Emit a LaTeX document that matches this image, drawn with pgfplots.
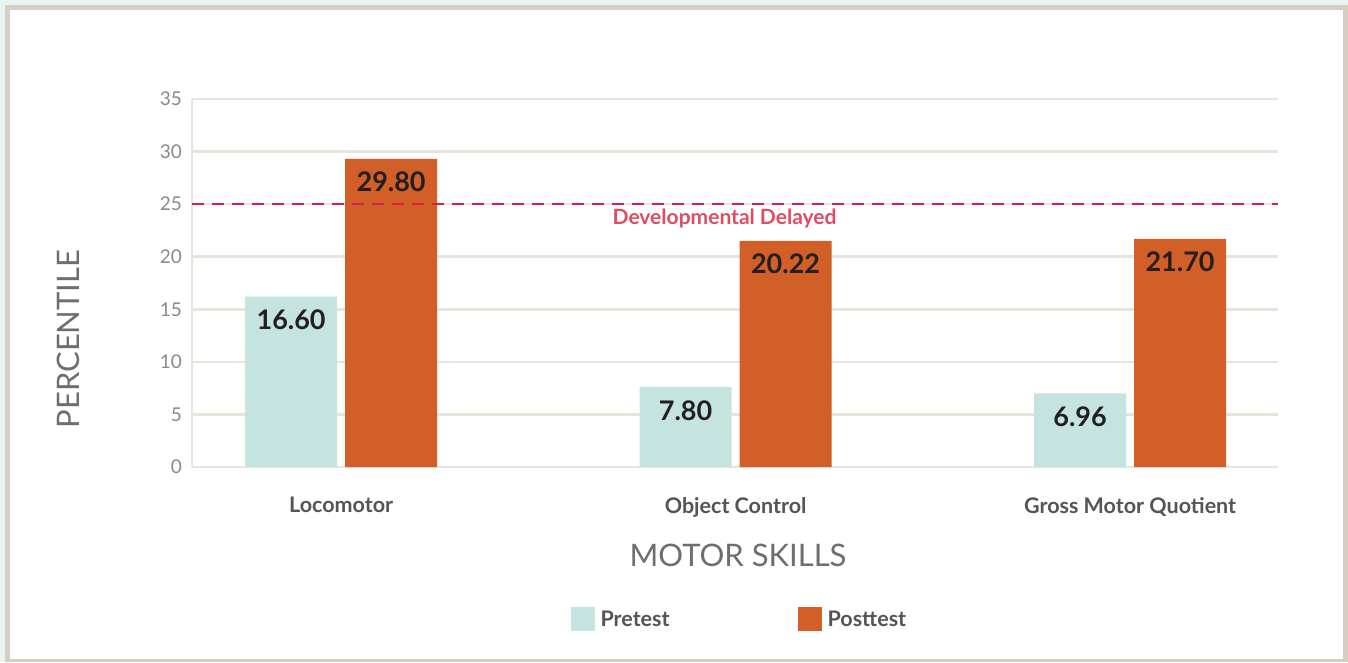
\documentclass[border=0pt]{standalone}
\usepackage{fontspec}
\setmainfont{Lato}
\usepackage{pgfplots}
\pgfplotsset{compat=1.18}
\usepackage{pgfplotstable}
\usetikzlibrary{backgrounds}

\definecolor{pre}{HTML}{C5E4DF}
\definecolor{post}{HTML}{D15F27}
\definecolor{gridc}{HTML}{E8E4DC}
\definecolor{framec}{HTML}{D6CEC0}
\definecolor{mint}{HTML}{EAF4F1}
\definecolor{ticklab}{HTML}{8A8A8A}
\definecolor{catlab}{HTML}{555555}
\definecolor{axlab}{HTML}{6E6E6E}
\definecolor{delay}{HTML}{D81E4D}
\definecolor{delaytext}{HTML}{E04C63}
\definecolor{vallab}{HTML}{231F20}

\pgfplotstableread{
x y label
0 16.2 16.60
1 7.6 7.80
2 7.0 6.96
}\pretest
\pgfplotstableread{
x y label
0 29.3 29.80
1 21.5 20.22
2 21.7 21.70
}\posttest

\begin{document}
\begin{tikzpicture}[x=1pt,y=1pt]
\begin{axis}[
  width=1086pt, height=368pt, scale only axis,
  xmin=-0.378, xmax=2.375, ymin=0, ymax=35,
  ytick={0,5,...,35},
  xtick={0,1,2},
  xticklabels={Locomotor, Object Control, Gross Motor Quotient},
  /pgf/number format/assume math mode=true,
  clip=false,
  axis lines=left,
  axis line style={-},
  x axis line style={draw=none},
  y axis line style={draw=gridc, line width=2.5pt},
  major tick length=0pt,
  ymajorgrids,
  grid style={draw=gridc, line width=2.5pt},
  yticklabel style={font=\fontsize{19}{19}\selectfont, text=ticklab, anchor=east, inner sep=0pt, xshift=-10pt},
  xticklabel style={font=\fontsize{21.5}{21.5}\selectfont\bfseries, text=catlab, anchor=north, inner sep=0pt, yshift=-30pt},
  legend columns=2,
  legend style={at={(0.504,-0.413)}, anchor=center, draw=none, fill=none,
    font=\fontsize{21.5}{21.5}\selectfont\bfseries, text=catlab,
    /tikz/every odd column/.append style={column sep=4pt},
    /tikz/every even column/.append style={column sep=126pt}},
]
\addplot[ybar, bar width=92pt, bar shift=-50pt, fill=pre, draw=none,
  nodes near coords, point meta=explicit symbolic,
  nodes near coords style={anchor=north, xshift=-50pt, yshift=-13pt, inner sep=0pt, font=\fontsize{27}{27}\selectfont\bfseries, text=vallab},
  legend image code/.code={\fill[pre] (0pt,-12pt) rectangle (24pt,12pt);}]
  table[x=x, y=y, meta=label] {\pretest};
\addlegendentry{Pretest}
\addplot[ybar, bar width=92pt, bar shift=50pt, fill=post, draw=none,
  nodes near coords, point meta=explicit symbolic,
  nodes near coords style={anchor=north, xshift=50pt, yshift=-13pt, inner sep=0pt, font=\fontsize{27}{27}\selectfont\bfseries, text=vallab},
  legend image code/.code={\fill[post] (0pt,-12pt) rectangle (24pt,12pt);}]
  table[x=x, y=y, meta=label] {\posttest};
\addlegendentry{Posttest}
\addplot[forget plot, sharp plot, draw=delay, line width=2.5pt, dash pattern=on 12pt off 8pt]
  coordinates {(-0.378,25) (2.375,25)};
\node[font=\fontsize{21}{21}\selectfont\bfseries, text=delaytext] at (axis cs:0.972,23.6) {Developmental Delayed};
\coordinate (O) at (rel axis cs:0,0);
\end{axis}
\begin{scope}[on background layer, shift={(O)}]
\begin{scope}[shift={(-192,-195)}]
\useasboundingbox (0,0) rectangle (1348,662);
\fill[mint] (0,0) rectangle (1348,662);
\fill[framec] (5,0) rectangle (1348,657);
\fill[white] (10,3) rectangle (1343,652);
\node[rotate=90, font=\fontsize{31}{31}\selectfont, text=axlab] at (68,323) {PERCENTILE};
\node[font=\fontsize{31}{31}\selectfont, text=axlab] at (738,107) {MOTOR SKILLS};
\end{scope}
\end{scope}
\end{tikzpicture}
\end{document}
